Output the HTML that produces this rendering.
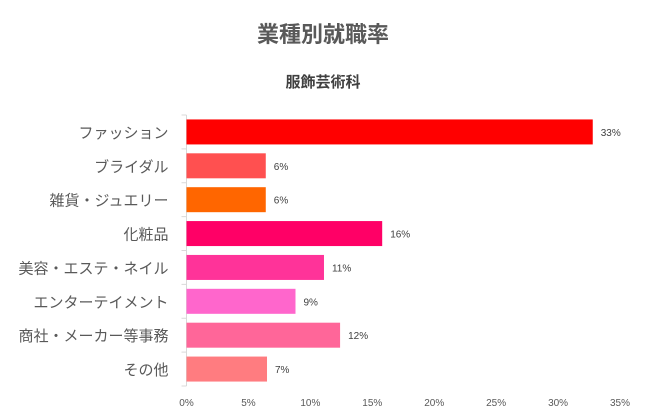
<!DOCTYPE html>
<html><head><meta charset="utf-8"><style>
body{margin:0;background:#fff;}
svg{display:block;font-family:"Liberation Sans","Noto Sans CJK JP",sans-serif;}
</style></head><body>
<svg width="646" height="417">
<text x="323" y="42" text-anchor="middle" font-size="22" font-weight="bold" fill="#595959">業種別就職率</text>
<text x="323" y="87" text-anchor="middle" font-size="15" font-weight="bold" fill="#404040">服飾芸術科</text>
<g id="plot"></g>
</svg>
<script>
const categories=["ファッション","ブライダル","雑貨・ジュエリー","化粧品","美容・エステ・ネイル","エンターテイメント","商社・メーカー等事務","その他"];
const values=[32.8,6.4,6.4,15.8,11.1,8.8,12.4,6.5];
const labels=["33%","6%","6%","16%","11%","9%","12%","7%"];
const colors=["#FF0000","#FF5050","#FF6600","#FF0066","#FF3399","#FF66CC","#FF6699","#FF7C80"];
const ticks=[0,5,10,15,20,25,30,35];
const ns="http://www.w3.org/2000/svg";
const g=document.getElementById('plot');
const x0=186.5,x1=620,y0=115,y1=386;
const xs=v=>x0+(v/35)*(x1-x0);
const band=(y1-y0)/categories.length;
function el(t,a,txt){const e=document.createElementNS(ns,t);for(const k in a)e.setAttribute(k,a[k]);if(txt!==undefined)e.textContent=txt;g.appendChild(e);return e;}
const ax=el('line',{x1:x0,y1:y0,x2:x0,y2:y1,stroke:'#d9d9d9'});


for(let i=0;i<=categories.length;i++){
 const t=el('line',{x1:x0-5,y1:y0+i*band,x2:x0,y2:y0+i*band,stroke:'#d9d9d9'});
 
 
}
categories.forEach((c,i)=>{
 const cy=y0+band*(i+0.5);
 const r=el('rect',{x:x0,y:cy-12.5,width:xs(values[i])-x0,height:25,fill:colors[i]});
 
 
 const l=el('text',{x:xs(values[i])+8,y:cy+4,'font-size':10,fill:'#404040'},labels[i]);
 
 
 const cl=el('text',{x:x0-18,y:cy+6,'text-anchor':'end','font-size':15,fill:'#595959'},c);
 
 
});
ticks.forEach(t=>{
 const tl=el('text',{x:xs(t),y:406,'text-anchor':'middle','font-size':10,fill:'#595959'},t+'%');
 
 
});
</script>
</body></html>
